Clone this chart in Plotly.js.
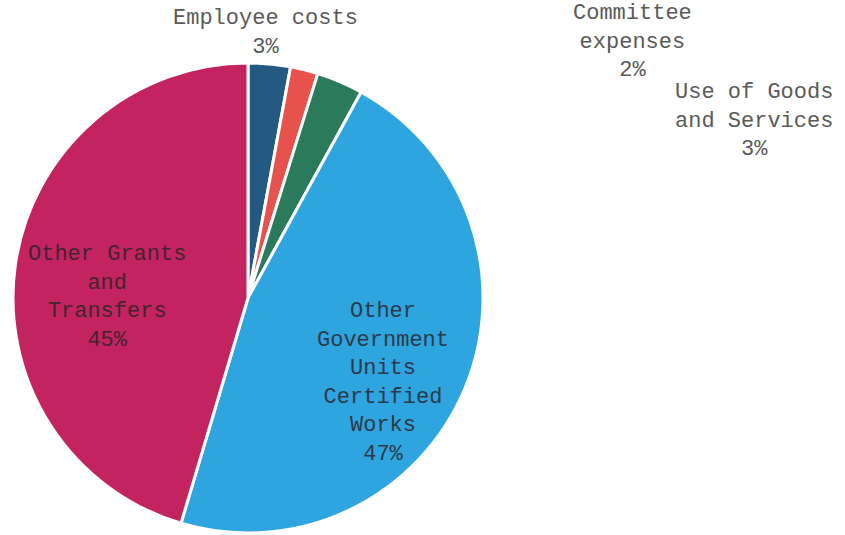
<!DOCTYPE html>
<html>
<head>
<meta charset="utf-8">
<script src="https://cdn.plot.ly/plotly-3.0.1.min.js"></script>
<style>html,body{margin:0;padding:0;background:#fff;}#chart{width:845px;height:535px;}</style>
</head>
<body>
<div id="chart"></div>
<script>
// Data (clockwise from 12 o'clock)
var categories = ["Employee costs", "Committee expenses", "Use of Goods and Services",
                  "Other Government Units Certified Works", "Other Grants and Transfers"];
var values = [2.9, 1.9, 3.2, 46.6, 45.4];
// Label text as printed (line breaks as in the reference)
var labelLines = [
  ["Employee costs"],
  ["Committee", "expenses"],
  ["Use of Goods", "and Services"],
  ["Other", "Government", "Units", "Certified", "Works"],
  ["Other Grants", "and", "Transfers"]
];

// Styles
var colors = ["#245a82", "#e8524d", "#2b7a5c", "#2ea5df", "#c3245f"];
var labelPos = [ // pixel centres of each label block
  [265, 33], [632, 42], [754, 121], [383, 383], [107, 297]
];
var labelColors = ["#5a5a5a", "#5a5a5a", "#5a5a5a", "#2b3a48", "#43232f"];

var W = 845, H = 535;
var total = values.reduce(function (a, b) { return a + b; }, 0);
var annotations = categories.map(function (c, i) {
  var pct = Math.round(values[i] / total * 100) + "%";
  return {
    text: labelLines[i].concat([pct]).join("<br>"),
    xref: "paper", yref: "paper",
    x: labelPos[i][0] / W, y: 1 - labelPos[i][1] / H,
    xanchor: "center", yanchor: "middle", align: "center",
    showarrow: false,
    font: {family: "Liberation Mono, Courier New, monospace", size: 22, color: labelColors[i]}
  };
});

var cx = 248, cy = 298, r = 235;
var trace = {
  type: "pie",
  labels: categories,
  values: values,
  sort: false,
  direction: "clockwise",
  rotation: 0,
  textinfo: "none",
  hoverinfo: "label+percent",
  marker: {colors: colors, line: {color: "#ffffff", width: 3}},
  domain: {x: [(cx - r) / W, (cx + r) / W], y: [1 - (cy + r) / H, 1 - (cy - r) / H]},
  showlegend: false
};

var layout = {
  width: W, height: H,
  margin: {l: 0, r: 0, t: 0, b: 0},
  paper_bgcolor: "#ffffff",
  showlegend: false,
  annotations: annotations
};

Plotly.newPlot("chart", [trace], layout, {displayModeBar: false, staticPlot: true});
</script>
</body>
</html>
